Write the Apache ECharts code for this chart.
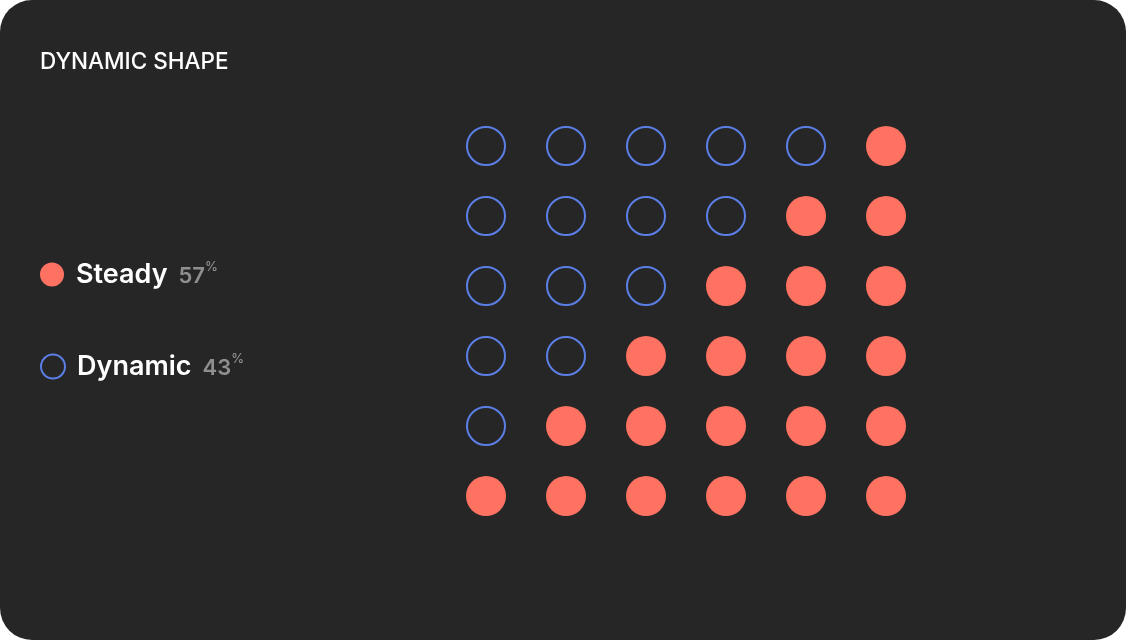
<!DOCTYPE html>
<html>
<head>
<meta charset="utf-8">
<script src="https://cdn.jsdelivr.net/npm/echarts@6/dist/echarts.min.js"></script>
<style>
html,body{margin:0;padding:0;background:#ffffff;}
#chart{width:1126px;height:640px;}
</style>
</head>
<body>
<div id="chart"></div>
<script>
// ---- data ----
const titleText = 'DYNAMIC SHAPE';
const seriesNames = ['Steady', 'Dynamic'];
const sharePct = [57, 43];
const columns = [0, 1, 2, 3, 4, 5];
const rows = [0, 1, 2, 3, 4, 5];          // 0 = top row
const steadyPerRow = [1, 2, 3, 4, 5, 6];  // filled dots per row, counted from the right

// ---- styles ----
const coral = '#ff7262';
const blue = '#5b7fe6';
const bg = '#262626';

const steadyPts = [];
const dynamicPts = [];
rows.forEach((r, i) => {
  const n = steadyPerRow[i];
  columns.forEach(c => {
    if (c >= columns.length - n) steadyPts.push([c, r]);
    else dynamicPts.push([c, r]);
  });
});

const chart = echarts.init(document.getElementById('chart'));

function legendFor(idx, top) {
  return {
    data: [seriesNames[idx]],
    left: 40,
    top: top,
    padding: 0,
    orient: 'vertical',
    itemWidth: 24,
    itemHeight: 24,
    selectedMode: false,
    icon: 'circle',
    formatter: name => `{n|${name}}{p|${sharePct[idx]}}{s|%}`,
    textStyle: {
      padding: [0, 0, 0, 7],
      rich: {
        n: { fontFamily: 'Inter', fontSize: 27, fontWeight: 600, color: '#ffffff', padding: [0, 11, 0, 0] },
        p: { fontFamily: 'Inter', fontSize: 22, fontWeight: 600, color: '#8f8f8f', padding: [4, 0, 0, 0] },
        s: { fontFamily: 'Inter', fontSize: 13, fontWeight: 500, color: '#8f8f8f', verticalAlign: 'top', padding: [0, 0, 4, 0] }
      }
    }
  };
}

chart.setOption({
  backgroundColor: 'transparent',
  animation: false,
  graphic: [{
    type: 'rect',
    z: -10,
    shape: { x: 0, y: 0, width: 1126, height: 640, r: 32 },
    style: { fill: bg }
  }],
  title: {
    text: titleText,
    left: 40,
    top: 51,
    padding: 0,
    textStyle: { fontFamily: 'Inter', fontSize: 22.5, fontWeight: 500, color: '#ffffff' }
  },
  legend: [legendFor(0, 261), legendFor(1, 353)],
  grid: { left: 446, top: 111, width: 480, height: 420 },
  xAxis: { type: 'value', min: -0.5, max: 5.5, show: false },
  yAxis: { type: 'value', min: -0.5, max: 5.5, inverse: true, show: false },
  series: [
    {
      name: seriesNames[0],
      type: 'scatter',
      symbol: 'circle',
      symbolSize: 40,
      itemStyle: { color: coral, opacity: 1 },
      data: steadyPts
    },
    {
      name: seriesNames[1],
      type: 'scatter',
      symbol: 'circle',
      symbolSize: 38,
      itemStyle: { color: 'rgba(0,0,0,0)', borderColor: blue, borderWidth: 2, opacity: 1 },
      data: dynamicPts
    }
  ]
});
</script>
</body>
</html>
